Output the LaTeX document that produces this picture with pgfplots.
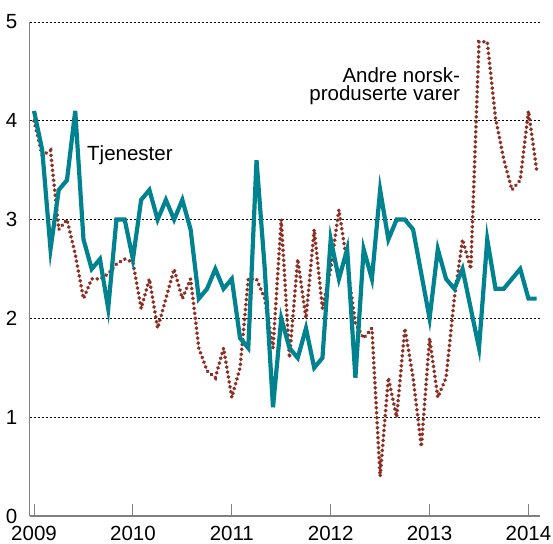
\documentclass[border=0pt]{standalone}
\usepackage{pgfplots}
\pgfplotsset{compat=1.18}
\usepackage{fontspec}
\setmainfont{Liberation Sans}
\definecolor{tealline}{RGB}{0,131,143}
\definecolor{brick}{RGB}{140,48,38}
\begin{document}
\begin{tikzpicture}
\begin{axis}[
  at={(0,0)}, anchor=south west,
  scale only axis, width=510.5bp, height=494bp,
  xmin=-0.55, xmax=61.4, ymin=0, ymax=5,
  axis x line=bottom, axis y line=left,
  axis line style={draw=gray, line width=1.2bp, -},
  xtick={0,12,24,36,48,60}, xticklabels={2009,2010,2011,2012,2013,2014},
  ytick={0,1,2,3,4,5},
  xtick align=inside, major tick length=12bp,
  xtick style={draw=gray, line width=1bp},
  ytick style={draw=none},
  ymajorgrids, grid style={black, line width=0.8bp, dash pattern=on 2bp off 2bp},
  tick label style={font=\fontsize{20.5bp}{24bp}\selectfont, /pgf/number format/assume math mode=true},
  yticklabel style={anchor=east, inner sep=0pt, xshift=-6bp},
  xticklabel style={anchor=north, inner sep=0pt, yshift=-9.5bp},
  clip=false,
]
\addplot[brick, line width=3.8bp, line cap=round, dash pattern=on 0.3bp off 4.7bp] coordinates {
(0,4.0)(1,3.65)(2,3.7)(3,2.9)(4,3.0)(5,2.65)(6,2.2)(7,2.4)(8,2.4)(9,2.45)
(10,2.55)(11,2.6)(12,2.57)(13,2.1)(14,2.4)(15,1.9)(16,2.2)(17,2.5)(18,2.2)(19,2.4)
(20,1.7)(21,1.47)(22,1.4)(23,1.7)(24,1.2)(25,1.5)(26,2.4)(27,2.4)(28,2.2)(29,1.7)
(30,3.0)(31,1.6)(32,2.6)(33,2.0)(34,2.9)(35,2.1)(36,2.5)(37,3.1)(38,2.55)(39,1.95)
(40,1.8)(41,1.9)(42,0.4)(43,1.4)(44,1.0)(45,1.9)(46,1.4)(47,0.7)(48,1.8)(49,1.2)
(50,1.4)(51,2.2)(52,2.8)(53,2.5)(54,4.8)(55,4.8)(56,4.03)(57,3.61)(58,3.3)(59,3.4)
(60,4.1)(61,3.5)
};
\addplot[tealline, line width=4.2bp] coordinates {
(0,4.1)(1,3.7)(2,2.7)(3,3.3)(4,3.4)(5,4.1)(6,2.8)(7,2.5)(8,2.6)(9,2.1)
(10,3.0)(11,3.0)(12,2.6)(13,3.2)(14,3.3)(15,3.0)(16,3.2)(17,3.0)(18,3.2)(19,2.9)
(20,2.2)(21,2.3)(22,2.5)(23,2.3)(24,2.4)(25,1.8)(26,1.7)(27,3.6)(28,2.5)(29,1.1)
(30,2.0)(31,1.7)(32,1.6)(33,1.9)(34,1.5)(35,1.6)(36,2.8)(37,2.4)(38,2.7)(39,1.4)
(40,2.7)(41,2.4)(42,3.3)(43,2.8)(44,3.0)(45,3.0)(46,2.9)(47,2.45)(48,2.0)(49,2.7)
(50,2.4)(51,2.3)(52,2.5)(53,2.1)(54,1.7)(55,2.8)(56,2.3)(57,2.3)(58,2.4)(59,2.5)
(60,2.2)(61,2.2)
};
\node[anchor=base west, inner sep=0pt, font=\fontsize{20.5bp}{24bp}\selectfont] at (axis cs:6.43,3.596) {Tjenester};
\node[anchor=north east, inner sep=0pt, align=right, font=\fontsize{20.5bp}{18.5bp}\selectfont] at (axis cs:51.7,4.545) {Andre norsk-\\produserte varer};
\end{axis}
\pgfresetboundingbox
\useasboundingbox (-29.5bp,-28bp) rectangle (523.5bp,516bp);
\end{tikzpicture}
\end{document}
